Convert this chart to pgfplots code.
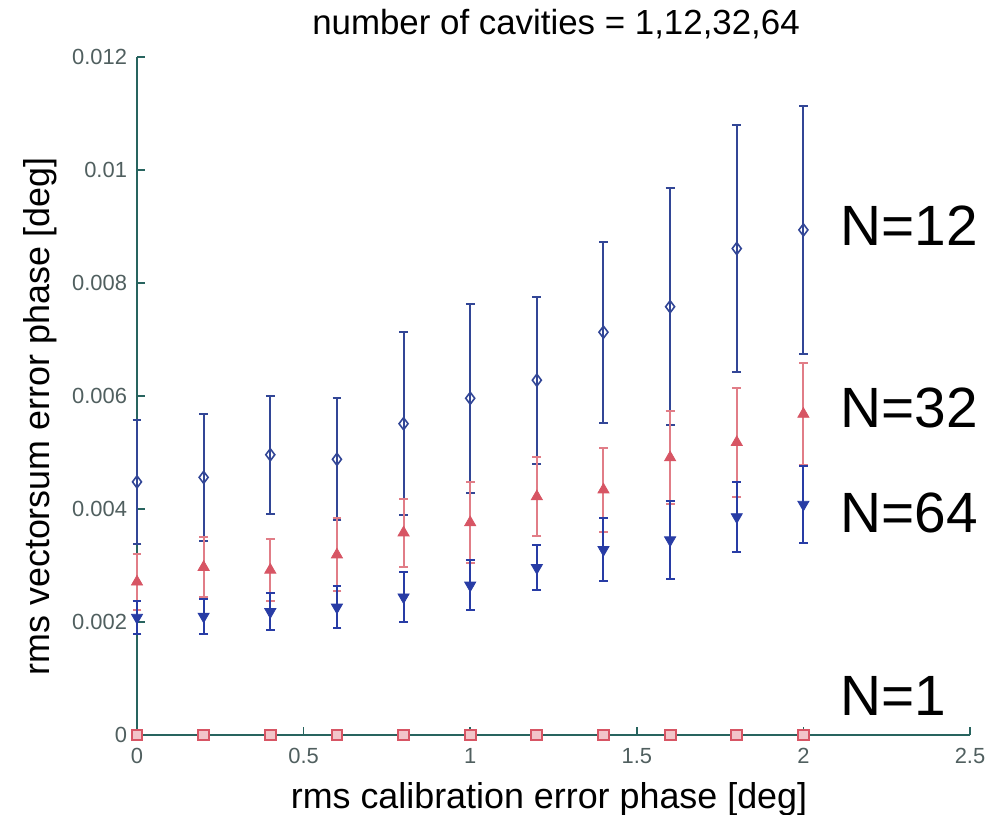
\documentclass[border=0pt]{standalone}
\usepackage{fontspec}
\setmainfont{Liberation Sans}
\usepackage{pgfplots}
\pgfplotsset{compat=1.18}

\definecolor{axcol}{RGB}{40,100,95}
\definecolor{tickgray}{RGB}{80,95,95}
\definecolor{blueA}{RGB}{50,70,150}
\definecolor{blueB}{RGB}{40,60,165}
\definecolor{redA}{RGB}{215,85,100}
\definecolor{redbar}{RGB}{225,125,135}

\begin{document}
\begin{tikzpicture}
\useasboundingbox (0,0) rectangle (495bp,407.5bp);
\begin{axis}[
    at={(68.5bp,40bp)}, anchor=south west,
    scale only axis, width=416.5bp, height=339bp,
    xmin=0, xmax=2.5, ymin=0, ymax=0.012,
    clip=false, scaled y ticks=false,
    axis x line=bottom, axis y line=left,
    axis line style={-, color=axcol, line width=0.9pt},
    tick align=inside, major tick length=4bp,
    tick style={color=axcol, line width=0.8pt},
    xtick={0,0.5,1,1.5,2,2.5},
    xticklabels={0,0.5,1,1.5,2,2.5},
    ytick={0,0.002,0.004,0.006,0.008,0.01,0.012},
    yticklabels={0,0.002,0.004,0.006,0.008,0.01,0.012},
    ticklabel style={font=\fontsize{11}{12}\selectfont, text=tickgray},
    xticklabel style={yshift=-3bp},
    yticklabel style={xshift=-1.5bp},
    xlabel={rms calibration error phase [deg]},
    ylabel={rms vectorsum error phase [deg]},
    label style={font=\fontsize{18}{20}\selectfont},
    xlabel style={at={(axis description cs:0.4946,-0.095)}, anchor=center},
    ylabel style={at={(axis description cs:-0.1165,0.47)}, anchor=center},
]
% N=12
\addplot[only marks, mark=diamond, mark size=3bp, color=blueA, line width=0.8pt,
    error bars/.cd, y dir=both, y explicit,
    error bar style={color=blueA, line width=1pt},
    error mark options={rotate=90, mark size=2.2bp, color=blueA, line width=1pt}]
coordinates {
(0,0.00448) +- (0,0.00110)
(0.2,0.00456) +- (0,0.00112)
(0.4,0.00496) +- (0,0.00104)
(0.6,0.00488) +- (0,0.00108)
(0.8,0.00551) +- (0,0.00162)
(1.0,0.00596) +- (0,0.00167)
(1.2,0.00628) +- (0,0.00148)
(1.4,0.00713) +- (0,0.00160)
(1.6,0.00758) +- (0,0.00210)
(1.8,0.00861) +- (0,0.00219)
(2.0,0.00894) +- (0,0.00220)
};
% N=32
\addplot[only marks, mark=triangle*, mark size=3.2bp, color=redA,
    error bars/.cd, y dir=both, y explicit,
    error bar style={color=redbar, line width=1pt},
    error mark options={rotate=90, mark size=2.2bp, color=redbar, line width=1pt}]
coordinates {
(0,0.00271) +- (0,0.00050)
(0.2,0.00297) +- (0,0.00053)
(0.4,0.00292) +- (0,0.00055)
(0.6,0.00319) +- (0,0.00065)
(0.8,0.00358) +- (0,0.00060)
(1.0,0.00376) +- (0,0.00071)
(1.2,0.00422) +- (0,0.00070)
(1.4,0.00434) +- (0,0.00074)
(1.6,0.00491) +- (0,0.00082)
(1.8,0.00518) +- (0,0.00097)
(2.0,0.00568) +- (0,0.00090)
};
% N=64
\addplot[only marks, mark=triangle*, mark size=3.2bp, mark options={rotate=180}, color=blueB,
    error bars/.cd, y dir=both, y explicit,
    error bar style={color=blueB, line width=1pt},
    error mark options={rotate=90, mark size=2.2bp, color=blueB, line width=1pt}]
coordinates {
(0,0.00208) +- (0,0.00030)
(0.2,0.00210) +- (0,0.00031)
(0.4,0.00218) +- (0,0.00033)
(0.6,0.00226) +- (0,0.00037)
(0.8,0.00244) +- (0,0.00044)
(1.0,0.00265) +- (0,0.00044)
(1.2,0.00296) +- (0,0.00040)
(1.4,0.00328) +- (0,0.00056)
(1.6,0.00345) +- (0,0.00069)
(1.8,0.00386) +- (0,0.00062)
(2.0,0.00408) +- (0,0.00068)
};
% N=1
\addplot[only marks, mark=square*, mark size=2.7bp, color=redA, fill=redbar!45, line width=1pt]
coordinates {
(0,0) (0.2,0) (0.4,0) (0.6,0) (0.8,0) (1.0,0) (1.2,0) (1.4,0) (1.6,0) (1.8,0) (2.0,0)
};
\node[anchor=base west, inner sep=0pt, font=\fontsize{28.5}{30}\selectfont] at (axis cs:2.11,0.00867) {N=12};
\node[anchor=base west, inner sep=0pt, font=\fontsize{28.5}{30}\selectfont] at (axis cs:2.11,0.00545) {N=32};
\node[anchor=base west, inner sep=0pt, font=\fontsize{28.5}{30}\selectfont] at (axis cs:2.11,0.00358) {N=64};
\node[anchor=base west, inner sep=0pt, font=\fontsize{28.5}{30}\selectfont] at (axis cs:2.11,0.00035) {N=1};
\end{axis}
\node[anchor=base, font=\fontsize{17.5}{20}\selectfont] at (278bp,390bp) {number of cavities = 1,12,32,64};
\end{tikzpicture}
\end{document}
